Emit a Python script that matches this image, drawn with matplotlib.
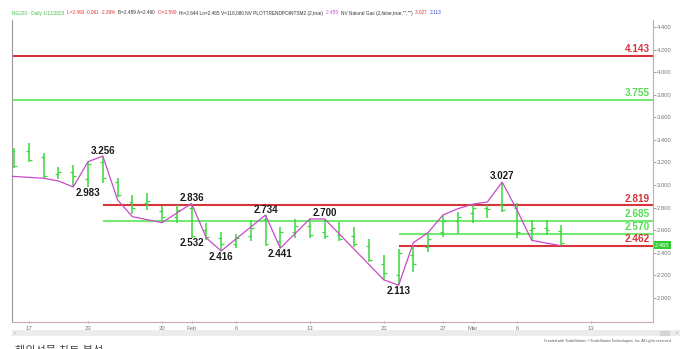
import matplotlib.pyplot as plt
from matplotlib.patches import Rectangle

# ── Colors ────────────────────────────────────────────────────────────────────
C_BAR    = "#3bd63b"
C_ZIG    = "#c84ac8"
C_RED    = "#d8343c"
C_GREEN  = "#74ea74"
C_GLBL   = "#55dd55"
C_AXIS   = "#c9a8b0"
C_TICK   = "#777777"

# ── Data (bar index 0 = Jan 16) ──────────────────────────────────────────────
highs  = [3.33, 3.37, 3.28, 3.16, 3.18, 3.20, 3.256, 3.06, 2.91, 2.93,
          2.81, 2.82, 2.836, 2.66, 2.58, 2.57, 2.69, 2.734, 2.63, 2.70,
          2.70, 2.70, 2.67, 2.63, 2.52, 2.38, 2.43, 2.47, 2.57, 2.735,
          2.76, 2.82, 2.82, 3.027, 2.84, 2.69, 2.69, 2.644]
lows   = [3.15, 3.20, 3.06, 3.05, 2.99, 2.983, 3.02, 2.89, 2.74, 2.78,
          2.67, 2.66, 2.53, 2.51, 2.416, 2.44, 2.50, 2.46, 2.441, 2.53,
          2.53, 2.52, 2.50, 2.45, 2.32, 2.16, 2.113, 2.23, 2.41, 2.54,
          2.57, 2.66, 2.71, 2.76, 2.53, 2.51, 2.56, 2.465]
opens  = [3.30, 3.30, 3.25, 3.10, 3.12, 3.05, 3.20, 3.03, 2.85, 2.84,
          2.77, 2.72, 2.80, 2.60, 2.53, 2.48, 2.55, 2.70, 2.50, 2.58,
          2.64, 2.58, 2.56, 2.55, 2.46, 2.30, 2.20, 2.38, 2.45, 2.58,
          2.68, 2.75, 2.80, 2.82, 2.80, 2.60, 2.62, 2.59]
closes = [3.17, 3.22, 3.08, 3.12, 3.08, 3.19, 3.06, 2.91, 2.80, 2.86,
          2.72, 2.78, 2.55, 2.54, 2.48, 2.53, 2.62, 2.48, 2.58, 2.64,
          2.56, 2.55, 2.52, 2.48, 2.34, 2.22, 2.40, 2.30, 2.52, 2.68,
          2.72, 2.80, 2.79, 2.78, 2.58, 2.62, 2.60, 2.49]

zig_idx = [-0.1, 2, 3, 4, 5, 6, 7, 8, 10, 12, 13, 14, 17, 18, 20, 21,
           25, 26, 27, 28, 29, 30, 31, 32, 33, 34, 35, 37]
zig_val = [3.077, 3.06, 3.036, 2.983, 3.207, 3.256, 2.868, 2.72, 2.667,
           2.836, 2.532, 2.416, 2.734, 2.441, 2.70, 2.70, 2.16, 2.113,
           2.49, 2.58, 2.735, 2.79, 2.83, 2.85, 3.027, 2.78, 2.51, 2.462]

pivot_idx = [6, 5, 12, 12, 14, 17, 18, 21, 26, 33]
pivot_val = [3.256, 2.983, 2.836, 2.532, 2.416, 2.734, 2.441, 2.700, 2.113, 3.027]
pivot_up  = [True, False, True, False, False, True, False, True, False, True]

level_val   = [4.143, 3.755, 2.819, 2.685, 2.570, 2.462]
level_start = [None, None, 6, 6, 26, 26]
level_color = [C_RED, C_GREEN, C_RED, C_GREEN, C_GREEN, C_RED]
level_lcol  = [C_RED, C_GLBL, C_RED, C_GLBL, C_GLBL, C_RED]

date_pos    = [1, 5, 10, 12, 15, 20, 25, 29, 31, 34, 39]
date_labels = ["17", "23", "30", "Feb", "6", "13", "21", "27", "Mar", "6", "13"]

y_ticks = [2.0, 2.2, 2.4, 2.6, 2.8, 3.0, 3.2, 3.4, 3.6, 3.8, 4.0, 4.2, 4.4]
last_price = 2.465

plt.rcParams["font.family"] = ["Liberation Sans", "Noto Sans CJK KR", "DejaVu Sans"]

fig = plt.figure(figsize=(6.82, 3.49), dpi=100, facecolor="white")
ax = fig.add_axes([0.0176, 0.0774, 0.9399, 0.8653])
ax.set_xlim(-0.14, 43.2)
ax.set_ylim(1.787, 4.462)

# ── Spines / ticks ───────────────────────────────────────────────────────────
ax.spines["top"].set_visible(False)
ax.spines["left"].set_color("#9a9a9a")
ax.spines["right"].set_color(C_AXIS)
ax.spines["bottom"].set_color(C_AXIS)
for s in ax.spines.values():
    s.set_linewidth(0.8)

ax.yaxis.tick_right()
ax.set_yticks(y_ticks)
ax.set_yticklabels([f"{v:.3f}" for v in y_ticks])
ax.tick_params(axis="y", labelsize=4.2, colors=C_TICK, length=2, width=0.5, pad=1)
ax.set_xticks(date_pos)
ax.set_xticklabels(date_labels)
ax.tick_params(axis="x", labelsize=4.3, colors=C_TICK, length=2, width=0.5,
               pad=2, direction="inout")

# ── Levels ────────────────────────────────────────────────────────────────────
for val, start, col, lcol in zip(level_val, level_start, level_color, level_lcol):
    x0 = ax.get_xlim()[0] if start is None else start
    ax.hlines(val, x0, ax.get_xlim()[1], color=col, linewidth=1.5, zorder=2)
    ax.annotate(f"{val:.3f}", xy=(0.995, val), xycoords=("axes fraction", "data"),
                xytext=(0, 1.2), textcoords="offset points",
                ha="right", va="bottom", fontsize=7.2, fontweight="bold",
                color=lcol, zorder=5)

# ── OHLC bars ────────────────────────────────────────────────────────────────
idx = list(range(len(highs)))
ax.vlines(idx, lows, highs, color=C_BAR, linewidth=1.1, zorder=3)
ax.hlines(opens, [i - 0.2 for i in idx], idx, color=C_BAR, linewidth=0.9, zorder=3)
ax.hlines(closes, idx, [i + 0.2 for i in idx], color=C_BAR, linewidth=0.9, zorder=3)

# ── Trend points ─────────────────────────────────────────────────────────────
ax.plot(zig_idx, zig_val, color=C_ZIG, linewidth=0.9, zorder=4)

for i, v, up in zip(pivot_idx, pivot_val, pivot_up):
    ax.annotate(f"{v:.3f}", xy=(i, v), xytext=(0, 4 if up else -4),
                textcoords="offset points", ha="center", va="center",
                fontsize=7, fontweight="bold", color="#1a1a1a", zorder=6)

# last price marker on the right scale
ax.annotate(f"{last_price:.3f}", xy=(1.0, last_price),
            xycoords=("axes fraction", "data"), xytext=(1.5, 0),
            textcoords="offset points", ha="left", va="center",
            fontsize=4.2, color="white",
            bbox=dict(boxstyle="square,pad=0.25", fc="#33cc33", ec="none"),
            annotation_clip=False)

# ── Header line: pieces laid out one after another ──────────────────────────
header = [
    ("NGJ23 - Daily 1/11/2023 ", "#44bb44"),
    ("L=2.490 -0.061 -2.39% ", "#dd3333"),
    ("B=2.489 A=2.490 ", "#333333"),
    ("O=2.590 ", "#dd3333"),
    ("Hi=2.644 Lo=2.465 V=118,080 NV PLOTTRENDPOINTSM2 (2,true) ", "#333333"),
    ("2.455 ", "#cc44cc"),
    ("NV Natural Gas (2,false,true,\"\",\"\") ", "#333333"),
    ("3.027 ", "#dd3333"),
    ("2.113", "#3344cc"),
]
renderer = fig.canvas.get_renderer()
hx = 12 / 682
for txt, col in header:
    t = fig.text(hx, 1 - 13 / 349, txt, fontsize=3.4, color=col,
                 ha="left", va="center")
    bb = t.get_window_extent(renderer)
    hx += bb.width / fig.bbox.width + 1.5 / 682

# ── Scroll bar + footer ──────────────────────────────────────────────────────
fig.patches.append(Rectangle((12 / 682, 1 - 336 / 349), 668 / 682, 6 / 349,
                             transform=fig.transFigure, fc="#ececec", ec="none"))
fig.patches.append(Rectangle((660 / 682, 1 - 335.5 / 349), 10 / 682, 5 / 349,
                             transform=fig.transFigure, fc="#d4d4d4", ec="none"))
fig.text(14 / 682, 1 - 333 / 349, "‹", fontsize=4, color="#888888", va="center")
fig.text(676 / 682, 1 - 333 / 349, "›", fontsize=4, color="#888888", va="center")
fig.text(672 / 682, 1 - 341 / 349,
         "Created with TradeStation. ©TradeStation Technologies, Inc. All rights reserved.",
         fontsize=2.6, color="#555555", ha="right", va="center")
fig.text(15 / 682, 1 - 351 / 349, "해외선물 차트 분석", fontsize=8, color="#444444",
         ha="left", va="center")

fig.savefig("out.png", dpi=100, facecolor="white")
